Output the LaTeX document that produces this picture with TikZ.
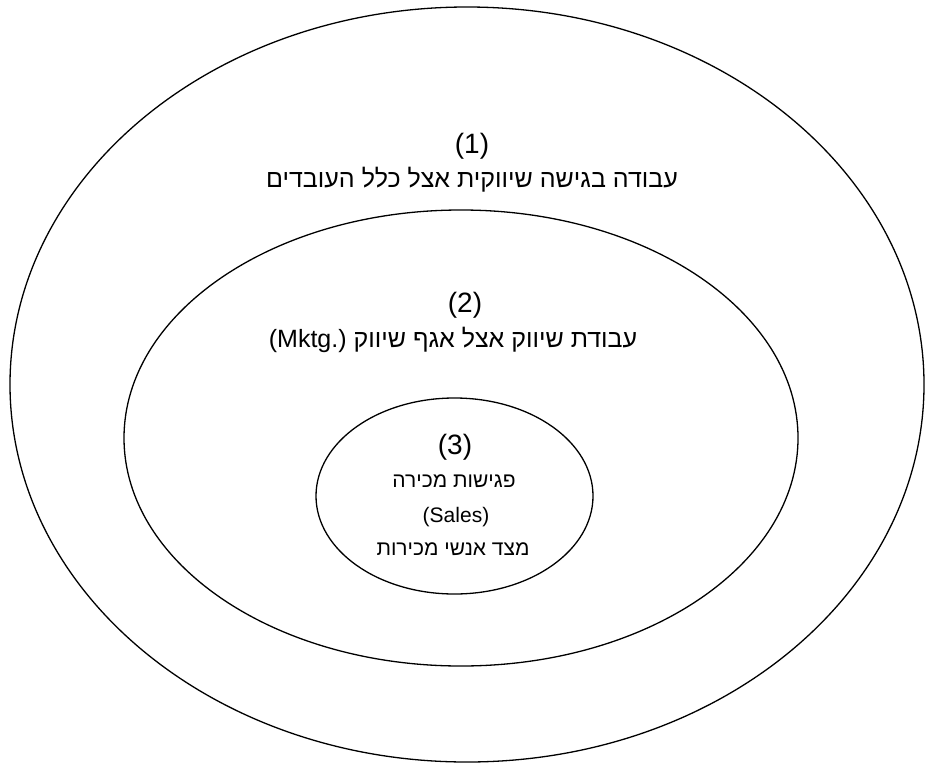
\documentclass[tikz,border=0pt]{standalone}
\usepackage{fontspec}
\setmainfont{Liberation Sans}
\newfontfamily\heb[Script=Hebrew]{Liberation Sans}
\TeXXeTstate=1
\usetikzlibrary{shapes.geometric}
\begin{document}
\begin{tikzpicture}[x=1pt,y=-1pt,
  ring/.style={ellipse, draw=black, line width=1.3pt, inner sep=0pt},
  numtxt/.style={font=\heb\fontsize{28}{32}\selectfont, inner sep=0pt},
  hebbig/.style={font=\heb\fontsize{25}{29}\selectfont, inner sep=0pt},
  hebtxt/.style={font=\heb\fontsize{21}{25}\selectfont, inner sep=0pt}]
\useasboundingbox (0,0) rectangle (925,765);
\node[ring, minimum width=914pt, minimum height=755pt] (outer) at (467,384.5) {};
\node[ring, minimum width=674pt, minimum height=456pt] (middle) at (461,438) {};
\node[ring, minimum width=277pt, minimum height=196pt] (inner) at (454.5,496) {};
\node[numtxt] (n1) at (472,146) {(1)};
\node[hebbig] (t1) at (472,180) {\beginR עבודה בגישה שיווקית אצל כלל העובדים\endR};
\node[numtxt] (n2) at (465,305) {(2)};
\node[hebbig] (t2) at (453,340) {\beginR עבודת שיווק אצל אגף שיווק \beginL(Mktg.)\endL\endR};
\node[numtxt] (n3) at (455,447) {(3)};
\node[hebtxt] (t3a) at (454,481) {\beginR פגישות מכירה\endR};
\node[hebtxt] (t3b) at (456,517) {(Sales)};
\node[hebtxt] (t3c) at (453,549) {\beginR מצד אנשי מכירות\endR};
\end{tikzpicture}
\end{document}
